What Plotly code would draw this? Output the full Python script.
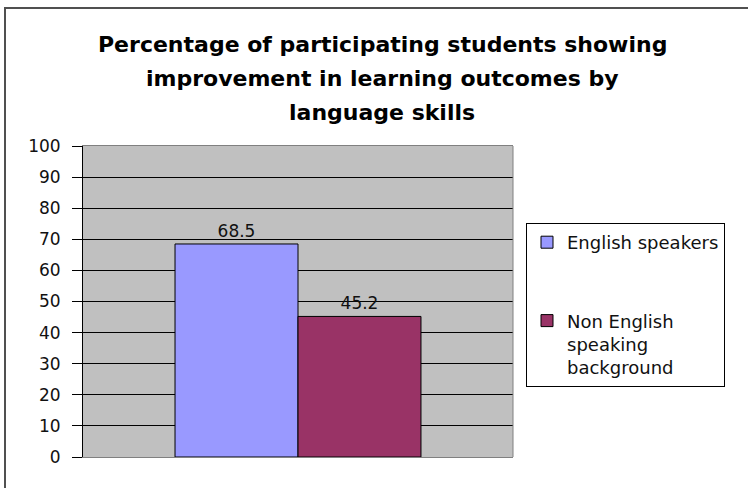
import plotly.graph_objects as go

categories = ["Language skills"]
series_names = ["English speakers", "Non English<br>speaking<br>background"]
series_values = [[68.5], [45.2]]
series_colors = ["#9999FF", "#993366"]
y_ticks = [0, 10, 20, 30, 40, 50, 60, 70, 80, 90, 100]
title_lines = [
    "Percentage of participating students showing",
    "improvement in learning outcomes by",
    "language skills",
]

W, H = 748, 488
L, R, T, B = 83, 235, 146, 31
pw, ph = W - L - R, H - T - B

def px_x(x):
    return (x - L) / pw

def px_y(y):
    return (H - B - y) / ph

FONT = "DejaVu Sans, Liberation Sans, Arial, sans-serif"

fig = go.Figure()
for i, (name, vals, col) in enumerate(zip(series_names, series_values, series_colors)):
    fig.add_trace(go.Bar(
        x=categories, y=vals, name=name,
        marker=dict(color=col, line=dict(color="black", width=1)),
        text=[f"{v:.1f}" for v in vals], textposition="outside",
        textfont=dict(family=FONT, size=17, color="#111"),
        cliponaxis=False, legendgroup=f"g{i}",
    ))

annotations = []
for line, yp in zip(title_lines, [45, 79, 113]):
    annotations.append(dict(
        text=f"<b>{line}</b>", xref="paper", yref="paper",
        x=px_x(382), y=px_y(yp), xanchor="center", yanchor="middle",
        showarrow=False, font=dict(family=FONT, size=22, color="black"),
    ))

shapes = [
    dict(type="rect", xref="paper", yref="paper",
         x0=px_x(5), x1=px_x(770), y0=px_y(520), y1=px_y(8),
         line=dict(color="#505050", width=2), layer="above"),
    dict(type="line", xref="paper", yref="paper",
         x0=1, x1=1, y0=0, y1=1, line=dict(color="#808080", width=1)),
]

fig.update_layout(
    width=W, height=H,
    margin=dict(l=L, r=R, t=T, b=B),
    paper_bgcolor="white", plot_bgcolor="#C0C0C0",
    barmode="group", bargap=0.428, bargroupgap=0,
    showlegend=True,
    legend=dict(
        x=px_x(526), y=px_y(223), xanchor="left", yanchor="top",
        bordercolor="black", borderwidth=1, bgcolor="white",
        font=dict(family=FONT, size=18, color="#111"),
        tracegroupgap=52, itemwidth=30, traceorder="grouped",
        valign="top",
    ),
    annotations=annotations, shapes=shapes,
    xaxis=dict(showticklabels=False, ticks="", showgrid=False,
               showline=True, linecolor="#808080", linewidth=1, mirror=True,
               fixedrange=True),
    yaxis=dict(range=[0, 100], tickvals=y_ticks, ticktext=[str(t) for t in y_ticks],
               ticks="outside", ticklen=10, tickcolor="black", tickwidth=1,
               showline=True, linecolor="black", linewidth=1,
               showgrid=True, gridcolor="black", gridwidth=1,
               zeroline=False, ticklabelstandoff=8, fixedrange=True,
               tickfont=dict(family=FONT, size=17, color="#111")),
)

fig.write_html("out.html", config={"displayModeBar": False},
               post_script="document.body.style.margin='0';")
